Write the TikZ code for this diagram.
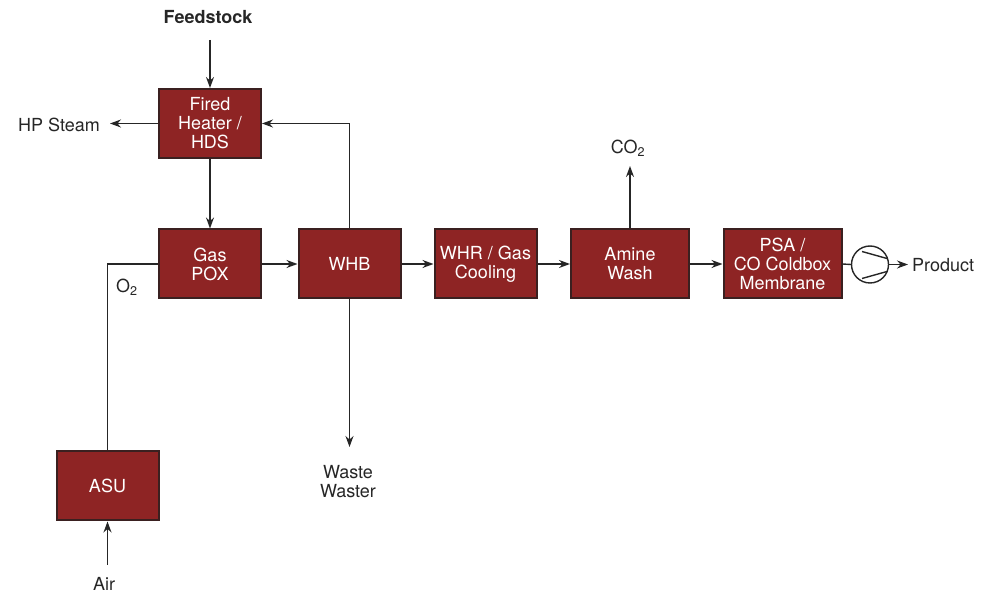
\documentclass[tikz,border=0pt]{standalone}
\usepackage{fontspec}
\setmainfont{TeX Gyre Heros}
\usetikzlibrary{arrows.meta}

\definecolor{unitred}{HTML}{8E2424}
\definecolor{unitedge}{HTML}{3A2020}

\tikzset{
  unit/.style={draw=unitedge, fill=unitred, line width=2pt, text=white,
    minimum width=102pt, minimum height=69pt, inner sep=0pt, align=center},
  streamtxt/.style={inner sep=0pt, align=center, text=black!85},
  pipe/.style={line width=1.4pt, draw=black!85},
  flow/.style={pipe, -{Stealth[length=11pt,width=8pt]}},
}

\begin{document}
\begin{tikzpicture}[x=1pt, y=-1pt, font=\fontsize{18}{19}\selectfont]
  \useasboundingbox (0,0) rectangle (997,593);

  % Process units
  \node[unit] (heater) at (210,123.5) {Fired\\Heater /\\HDS};
  \node[unit] (pox) at (210,264) {Gas\\POX};
  \node[unit] (whb) at (349.5,264) {WHB};
  \node[unit] (whr) at (485.5,264) {WHR / Gas\\Cooling};
  \node[unit, minimum width=118pt] (amine) at (630,264) {Amine\\Wash};
  \node[unit, minimum width=118pt] (psa) at (782.5,264) {PSA /\\CO Coldbox\\Membrane};
  \node[unit] (asu) at (107.5,486) {ASU};

  % Compressor
  \node[pipe, circle, draw, minimum size=37pt, inner sep=0pt] (comp) at (870,264.5) {};
  \draw[pipe] ([shift={(-8,-13)}]comp.center) -- ([shift={(17,-6)}]comp.center);
  \draw[pipe] ([shift={(-8,14)}]comp.center) -- ([shift={(17,7)}]comp.center);

  % Stream labels
  \node[streamtxt, font=\fontsize{18}{19}\selectfont\bfseries] (feed) at (208,17) {Feedstock};
  \node[streamtxt] (steam) at (59,125) {HP Steam};
  \node[streamtxt] (oxy) at (127,287) {O\textsubscript{2}};
  \node[streamtxt] (air) at (104,584) {Air};
  \node[streamtxt] (waste) at (348,482) {Waste\\Waster};
  \node[streamtxt] (co2) at (628,148) {CO\textsubscript{2}};
  \node[streamtxt, anchor=west] (prod) at (912,265) {Product};

  % Free ends of streams
  \coordinate (feedend) at (210,40);
  \coordinate (steamend) at (110,123.5);
  \coordinate (airend) at (107.5,565);
  \coordinate (wasteend) at (349.5,447);
  \coordinate (co2end) at (630,166);
  \coordinate (prodend) at (908,264.5);

  % Streams
  \draw[flow] (feedend) -- (heater.north);
  \draw[flow] (heater.west) -- (steamend);
  \draw[flow] (heater.south) -- (pox.north);
  \draw[flow] (pox.east) -- (whb.west);
  \draw[flow] (whb.north) |- (heater.east);
  \draw[flow] (whb.south) -- (wasteend);
  \draw[flow] (whb.east) -- (whr.west);
  \draw[flow] (whr.east) -- (amine.west);
  \draw[flow] (amine.north) -- (co2end);
  \draw[flow] (amine.east) -- (psa.west);
  \draw[pipe] (psa.east) -- (comp.west);
  \draw[flow] (comp.east) -- (prodend);
  \draw[pipe] (asu.north) |- (pox.west);
  \draw[flow] (airend) -- (asu.south);
\end{tikzpicture}
\end{document}
